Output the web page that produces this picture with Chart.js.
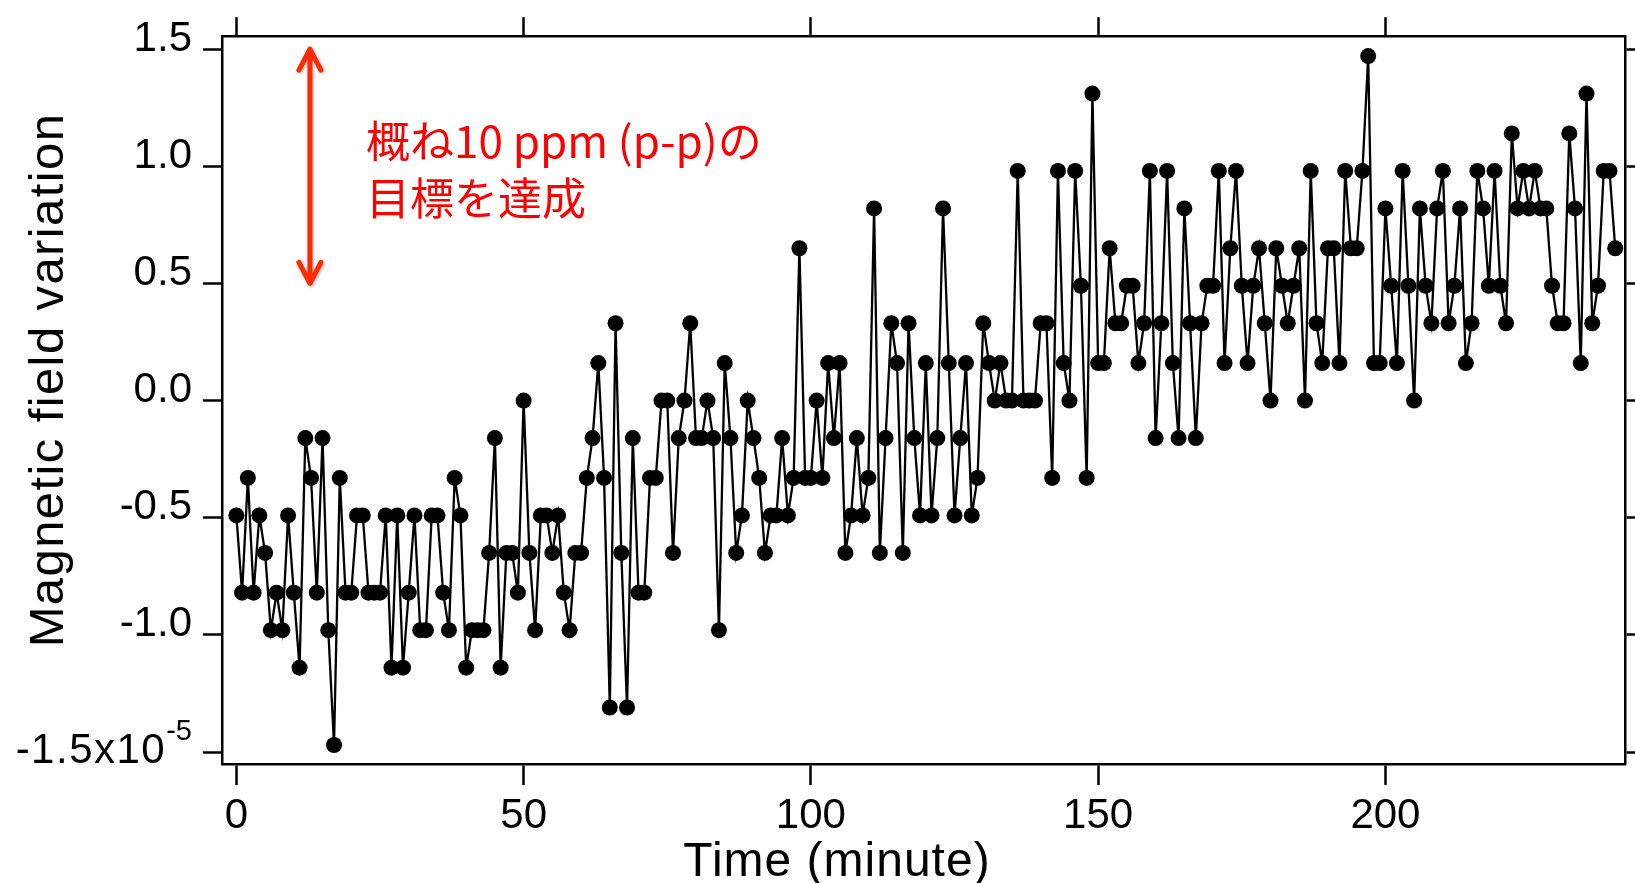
<!DOCTYPE html>
<html lang="ja">
<head>
<meta charset="utf-8">
<title>Magnetic field variation</title>
<script src="https://cdn.jsdelivr.net/npm/chart.js@4.4.1/dist/chart.umd.min.js"></script>
<style>
  html, body { margin: 0; padding: 0; background: #fff; }
  canvas { display: block; }
</style>
</head>
<body>
<canvas id="fieldChart" width="1635" height="883"></canvas>
<script>
// field variation (x1e-5), one sample per minute starting at 0
const field = [
  -0.49, -0.82, -0.33, -0.82, -0.49, -0.65, -0.98, -0.82, -0.98, -0.49,
  -0.82, -1.14, -0.16, -0.33, -0.82, -0.16, -0.98, -1.47, -0.33, -0.82,
  -0.82, -0.49, -0.49, -0.82, -0.82, -0.82, -0.49, -1.14, -0.49, -1.14,
  -0.82, -0.49, -0.98, -0.98, -0.49, -0.49, -0.82, -0.98, -0.33, -0.49,
  -1.14, -0.98, -0.98, -0.98, -0.65, -0.16, -1.14, -0.65, -0.65, -0.82,
  0, -0.65, -0.98, -0.49, -0.49, -0.65, -0.49, -0.82, -0.98, -0.65,
  -0.65, -0.33, -0.16, 0.16, -0.33, -1.31, 0.33, -0.65, -1.31, -0.16,
  -0.82, -0.82, -0.33, -0.33, 0, 0, -0.65, -0.16, 0, 0.33,
  -0.16, -0.16, 0, -0.16, -0.98, 0.16, -0.16, -0.65, -0.49, 0,
  -0.16, -0.33, -0.65, -0.49, -0.49, -0.16, -0.49, -0.33, 0.65, -0.33,
  -0.33, 0, -0.33, 0.16, -0.16, 0.16, -0.65, -0.49, -0.16, -0.49,
  -0.33, 0.82, -0.65, -0.16, 0.33, 0.16, -0.65, 0.33, -0.16, -0.49,
  0.16, -0.49, -0.16, 0.82, 0.16, -0.49, -0.16, 0.16, -0.49, -0.33,
  0.33, 0.16, 0, 0.16, 0, 0, 0.98, 0, 0, 0,
  0.33, 0.33, -0.33, 0.98, 0.16, 0, 0.98, 0.49, -0.33, 1.31,
  0.16, 0.16, 0.65, 0.33, 0.33, 0.49, 0.49, 0.16, 0.33, 0.98,
  -0.16, 0.33, 0.98, 0.16, -0.16, 0.82, 0.33, -0.16, 0.33, 0.49,
  0.49, 0.98, 0.16, 0.65, 0.98, 0.49, 0.16, 0.49, 0.65, 0.33,
  0, 0.65, 0.49, 0.33, 0.49, 0.65, 0, 0.98, 0.33, 0.16,
  0.65, 0.65, 0.16, 0.98, 0.65, 0.65, 0.98, 1.47, 0.16, 0.16,
  0.82, 0.49, 0.16, 0.98, 0.49, 0, 0.82, 0.49, 0.33, 0.82,
  0.98, 0.33, 0.49, 0.82, 0.16, 0.33, 0.98, 0.82, 0.49, 0.98,
  0.49, 0.33, 1.14, 0.82, 0.98, 0.82, 0.98, 0.82, 0.82, 0.49,
  0.33, 0.33, 1.14, 0.82, 0.16, 1.31, 0.33, 0.49, 0.98, 0.98, 0.65
];
const minutes = field.map((_, i) => i);

const xTicks = [0, 50, 100, 150, 200];
const yTicks = [-1.5, -1.0, -0.5, 0.0, 0.5, 1.0, 1.5];
const yExponent = '-5';

const xTitle = 'Time (minute)';
const yTitle = 'Magnetic field variation';
const noteLines = ['概ね10 ppm (p-p)の', '目標を達成'];

// the 10 ppm span marked by the red arrow
const arrowMinute = 12.8;
const arrowTop = 1.5;
const arrowBottom = 0.5;

const AXIS_FONT = '"Liberation Sans", "DejaVu Sans", Arial, sans-serif';
const NOTE_FONT = '"Noto Sans CJK JP", "Noto Sans", sans-serif';
const RED = '#ff0000';
const ARROW_RED = '#ff2a00';
const Y_TICK_LEN = 19;
const Y_TICK_PAD = 11;

function fixedTicks(values) {
  return (scale) => { scale.ticks = values.map(v => ({ value: v })); };
}

function tickGrid(len) {
  return {
    drawOnChartArea: false,
    drawTicks: true,
    tickLength: len,
    tickWidth: 2.5,
    tickColor: '#000'
  };
}

const axisBorder = { display: true, color: '#000', width: 2.5 };

const overlay = {
  id: 'overlay',
  afterDraw(chart) {
    const ctx = chart.ctx;
    const sx = chart.scales.x;
    const sy = chart.scales.y;

    // lowest y label carries the power of ten
    const labelRight = sy.right - Y_TICK_LEN - Y_TICK_PAD;
    const lowY = sy.getPixelForValue(yTicks[0]);
    ctx.save();
    ctx.fillStyle = '#000';
    ctx.textAlign = 'right';
    ctx.textBaseline = 'alphabetic';
    ctx.font = '29px ' + AXIS_FONT;
    const expWidth = ctx.measureText(yExponent).width;
    ctx.fillText(yExponent, labelRight, lowY - 12);
    ctx.font = '42px ' + AXIS_FONT;
    ctx.letterSpacing = '1.5px';
    ctx.fillText(yTicks[0].toFixed(1) + 'x10', labelRight - expWidth, lowY + 11);
    ctx.restore();

    // double headed arrow
    const ax = sx.getPixelForValue(arrowMinute);
    const y1 = sy.getPixelForValue(arrowTop);
    const y2 = sy.getPixelForValue(arrowBottom);
    ctx.save();
    ctx.strokeStyle = ARROW_RED;
    ctx.lineWidth = 5;
    ctx.lineCap = 'round';
    ctx.lineJoin = 'round';
    ctx.shadowColor = 'rgba(0,0,0,0.35)';
    ctx.shadowBlur = 3;
    ctx.shadowOffsetX = 1;
    ctx.shadowOffsetY = 1;
    ctx.beginPath();
    ctx.moveTo(ax, y1 + 2);
    ctx.lineTo(ax, y2 - 2);
    ctx.moveTo(ax - 11, y1 + 21);
    ctx.lineTo(ax, y1);
    ctx.lineTo(ax + 11, y1 + 21);
    ctx.moveTo(ax - 11, y2 - 21);
    ctx.lineTo(ax, y2);
    ctx.lineTo(ax + 11, y2 - 21);
    ctx.stroke();
    ctx.restore();

    // note beside the arrow
    ctx.save();
    ctx.fillStyle = RED;
    ctx.font = '44px ' + NOTE_FONT;
    ctx.textAlign = 'left';
    ctx.textBaseline = 'middle';
    ctx.fillText(noteLines[0], 366, 141);
    ctx.fillText(noteLines[1], 366, 198);
    ctx.restore();

    // axis titles
    ctx.save();
    ctx.fillStyle = '#000';
    ctx.font = '48px ' + AXIS_FONT;
    ctx.letterSpacing = '1px';
    ctx.textAlign = 'center';
    ctx.textBaseline = 'alphabetic';
    ctx.fillText(xTitle, 837, 876);
    ctx.translate(63, 380);
    ctx.rotate(-Math.PI / 2);
    ctx.font = '49px ' + AXIS_FONT;
    ctx.letterSpacing = '1.4px';
    ctx.fillText(yTitle, 0, 0);
    ctx.restore();
  }
};

new Chart(document.getElementById('fieldChart'), {
  type: 'line',
  data: {
    datasets: [{
      data: minutes.map((m, i) => ({ x: m, y: field[i] })),
      borderColor: '#000',
      borderWidth: 2.3,
      pointRadius: 8,
      pointBackgroundColor: '#000',
      pointBorderWidth: 0,
      tension: 0,
      xAxisID: 'x',
      yAxisID: 'y'
    }]
  },
  options: {
    responsive: false,
    animation: false,
    devicePixelRatio: 1,
    layout: { padding: 0 },
    plugins: {
      legend: { display: false },
      tooltip: { enabled: false }
    },
    scales: {
      x: {
        type: 'linear',
        position: 'bottom',
        min: -2.5,
        max: 241.7,
        afterBuildTicks: fixedTicks(xTicks),
        afterFit: (s) => { s.height = 119; },
        ticks: {
          color: '#000',
          font: { family: AXIS_FONT, size: 42 },
          padding: 6,
          maxRotation: 0,
          callback: (v) => String(v)
        },
        grid: tickGrid(21),
        border: axisBorder
      },
      xTop: {
        type: 'linear',
        position: 'top',
        min: -2.5,
        max: 241.7,
        afterBuildTicks: fixedTicks(xTicks),
        afterFit: (s) => { s.height = 31; },
        ticks: { display: false },
        grid: tickGrid(19),
        border: axisBorder
      },
      y: {
        type: 'linear',
        position: 'left',
        min: -1.551,
        max: 1.555,
        afterBuildTicks: fixedTicks(yTicks),
        afterFit: (s) => { s.width = 222; },
        ticks: {
          color: '#000',
          font: { family: AXIS_FONT, size: 42 },
          padding: Y_TICK_PAD,
          labelOffset: -10,
          // the lowest label is drawn by the overlay plugin
          callback: (v) => v === yTicks[0] ? '' : v.toFixed(1)
        },
        grid: tickGrid(Y_TICK_LEN),
        border: axisBorder
      },
      yRight: {
        type: 'linear',
        position: 'right',
        min: -1.551,
        max: 1.555,
        afterBuildTicks: fixedTicks(yTicks),
        afterFit: (s) => { s.width = 10; },
        ticks: { display: false },
        grid: tickGrid(12),
        border: axisBorder
      }
    }
  },
  plugins: [overlay]
});
</script>
</body>
</html>
